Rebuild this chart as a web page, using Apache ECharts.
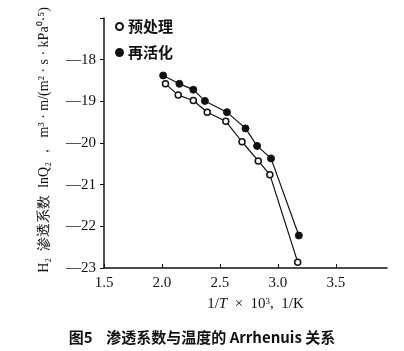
<!DOCTYPE html>
<html>
<head>
<meta charset="utf-8">
<script src="https://cdn.jsdelivr.net/npm/echarts@6/dist/echarts.min.js"></script>
<style>
  html, body { margin: 0; padding: 0; background: #fff; }
  #chart { width: 404px; height: 351px; }
</style>
</head>
<body>
<div id="chart"></div>
<script>
// 数据
var seriesNames = ['预处理', '再活化'];
// 预处理（空心圆）
var preX = [2.03, 2.14, 2.27, 2.39, 2.55, 2.69, 2.83, 2.93, 3.17];
var preY = [-18.58, -18.85, -18.98, -19.26, -19.48, -19.97, -20.43, -20.76, -22.86];
// 再活化（实心圆）
var reX = [2.01, 2.15, 2.27, 2.37, 2.56, 2.72, 2.82, 2.94, 3.18];
var reY = [-18.38, -18.58, -18.72, -18.99, -19.26, -19.65, -20.07, -20.37, -22.22];
var xTicks = [1.5, 2.0, 2.5, 3.0, 3.5];
var yTicks = [-18, -19, -20, -21, -22, -23];

function pairs(xs, ys){
    var out = [];
    for(var i = 0; i < xs.length; i++){
        out.push([xs[i], ys[i]]);
    }
    return out;
}

var serif = 'Liberation Serif';
var cjk = 'Noto Sans CJK SC';

var option = {
    animation: false,
    title: {
        text: '图5    渗透系数与温度的 Arrhenuis 关系',
        left: 'center',
        top: 325,
        textStyle: {
            fontFamily: cjk,
            fontSize: 15,
            fontWeight: 'bold',
            color: '#111'
        }
    },
    legend: {
        orient: 'vertical',
        left: 110,
        top: 14,
        itemGap: 11,
        itemWidth: 7,
        itemHeight: 7,
        icon: 'circle',
        data: seriesNames,
        textStyle: {
            fontFamily: cjk,
            fontSize: 15,
            fontWeight: 'bold',
            color: '#111'
        }
    },
    grid: {
        left: 104,
        right: 17,
        top: 18,
        bottom: 83,
        outerBoundsMode: 'none',
        containLabel: false
    },
    xAxis: {
        type: 'value',
        min: 1.5,
        max: 3.94,
        interval: 0.5,
        splitLine: { show: false },
        axisLine: { lineStyle: { color: '#111', width: 1.5 } },
        axisTick: { inside: true, length: 4, lineStyle: { color: '#111' } },
        axisLabel: {
            margin: 8,
            showMaxLabel: false,
            fontFamily: serif,
            fontSize: 15,
            color: '#111',
            formatter: function(v){
                return xTicks.indexOf(v) >= 0 ? v.toFixed(1) : '';
            }
        },
        name: '1/{i|T}  ×  10{sup|3},  1/K',
        nameLocation: 'middle',
        nameGap: 29,
        nameTextStyle: {
            fontFamily: serif,
            fontSize: 15,
            color: '#111',
            padding: [0, 0, 0, 20],
            rich: {
                i: { fontFamily: serif, fontSize: 15, fontStyle: 'italic', color: '#111' },
                sup: { fontFamily: serif, fontSize: 9, verticalAlign: 'top', color: '#111' }
            }
        }
    },
    yAxis: {
        type: 'value',
        min: -23,
        max: -17,
        interval: 1,
        splitLine: { show: false },
        axisLine: { lineStyle: { color: '#111', width: 1.5 } },
        axisTick: { inside: false, length: 4, lineStyle: { color: '#111' } },
        axisLabel: {
            margin: 8,
            fontFamily: serif,
            fontSize: 15,
            color: '#111',
            formatter: function(v){
                return yTicks.indexOf(v) >= 0 ? '—' + Math.abs(v) : '';
            }
        },
        name: 'H₂  渗透系数  lnQ₂ ，  m³ · m/(m² · s · kPa⁰·⁵)',
        nameLocation: 'middle',
        nameRotate: 90,
        nameGap: 53,
        nameTextStyle: {
            fontFamily: serif,
            fontSize: 14,
            color: '#111',
            padding: [0, 0, 0, 6]
        }
    },
    series: [
        {
            name: seriesNames[0],
            type: 'line',
            data: pairs(preX, preY),
            symbol: 'circle',
            symbolSize: 6,
            lineStyle: { color: '#111', width: 1.2 },
            itemStyle: { color: '#fff', borderColor: '#111', borderWidth: 1.5 }
        },
        {
            name: seriesNames[1],
            type: 'line',
            data: pairs(reX, reY),
            symbol: 'circle',
            symbolSize: 7,
            lineStyle: { color: '#111', width: 1.2 },
            itemStyle: { color: '#111', borderColor: '#111', borderWidth: 1 }
        }
    ]
};

var myChart = echarts.init(document.getElementById('chart'));
myChart.setOption(option);
</script>
</body>
</html>
